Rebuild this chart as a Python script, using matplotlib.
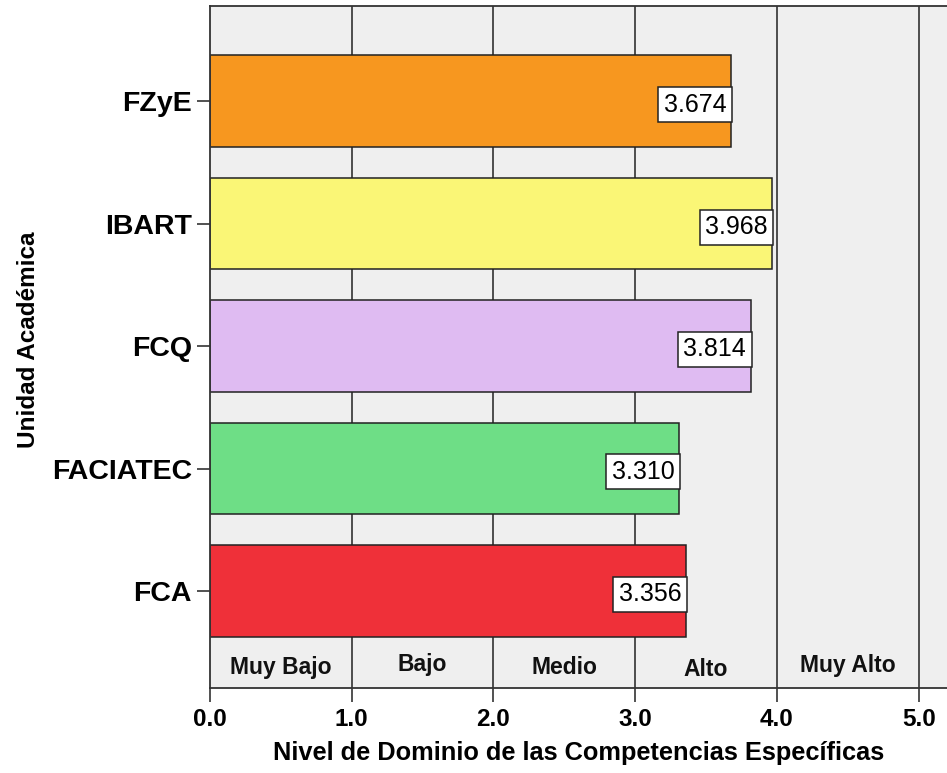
import matplotlib
matplotlib.use("Agg")
import matplotlib.pyplot as plt

plt.rcParams['font.family'] = ['Liberation Sans', 'DejaVu Sans']

categories = ["FZyE", "IBART", "FCQ", "FACIATEC", "FCA"]
values = [3.674, 3.968, 3.814, 3.310, 3.356]
colors = ["#F7971F", "#FAF676", "#DFBBF2", "#6EDE86", "#EF3039"]
band_labels = ["Muy Bajo", "Bajo", "Medio", "Alto", "Muy Alto"]
band_centers = [0.5, 1.5, 2.5, 3.5, 4.5]
band_y = [-0.625, -0.6, -0.625, -0.642, -0.608]
xticks = [0, 1, 2, 3, 4, 5]

fig = plt.figure(figsize=(9.47, 7.73), dpi=100)
ax = fig.add_axes([210/947, 1-688/773, 1-210/947, (688-6)/773])
ax.set_facecolor("#EFEFEF")

n = len(categories)
ypos = list(range(n-1, -1, -1))

for x in [1, 2, 3, 4, 5]:
    ax.axvline(x, color="#222222", lw=1.1, zorder=1)

ax.barh(ypos, values, height=0.745, color=colors, edgecolor="#222222", linewidth=1.1, zorder=2)

for y, v in zip(ypos, values):
    ax.annotate(f"{v:.3f}", xy=(v, y), xytext=(-3.2, -2.5), textcoords="offset points",
                ha="right", va="center", fontsize=18, color="black", zorder=4,
                bbox=dict(boxstyle="square,pad=0.22", facecolor="white", edgecolor="#222222", linewidth=1.1))

for lab, cx, cy in zip(band_labels, band_centers, band_y):
    ax.text(cx, cy, lab, ha="center", va="center", fontsize=16.5, fontweight="bold", color="#111111", zorder=3)

ax.set_xlim(0, 5.2)
ax.set_ylim(-0.792, 4.776)
ax.set_yticks(ypos)
ax.set_yticklabels(categories, fontsize=20.5, fontweight="bold")
ax.set_xticks(xticks)
ax.set_xticklabels([f"{t:.1f}" for t in xticks], fontsize=17.5, fontweight="bold")
ax.tick_params(axis="x", length=10, width=1.1, pad=4.5, color="#222222")
ax.tick_params(axis="y", length=9.5, width=1.1, pad=3.5, color="#222222")

for s in ["top", "left", "bottom"]:
    ax.spines[s].set_color("#333333")
    ax.spines[s].set_linewidth(1.3)
ax.spines["right"].set_visible(False)

ax.set_xlabel("Nivel de Dominio de las Competencias Específicas", fontsize=18.3, fontweight="bold", labelpad=7)
ax.set_ylabel("Unidad Académica", fontsize=17.5, fontweight="bold")
ax.yaxis.set_label_coords(-(210-40)/(947-210), 0.51)

fig.savefig("out.png", dpi=100)
